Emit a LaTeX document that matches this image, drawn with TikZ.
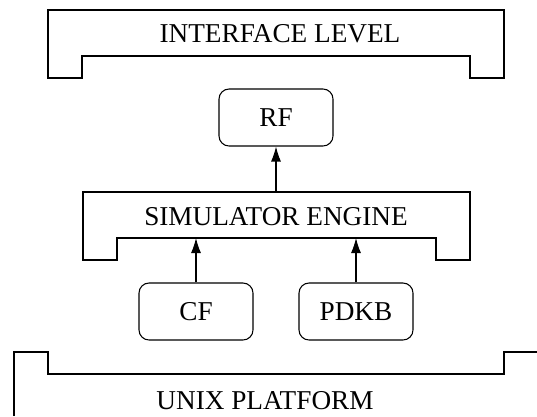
\documentclass[tikz,border=0pt]{standalone}
\usepackage{fontspec}
\setmainfont{Liberation Serif}
\usetikzlibrary{arrows.meta}

\begin{document}
\begin{tikzpicture}[x=0.02cm, y=-0.02cm, line width=0.6pt,
	every node/.style={font=\fontsize{15.5}{18}\selectfont},
	modbox/.style={draw, rounded corners=2mm, minimum width=2.28cm, minimum height=1.14cm, inner sep=0pt},
	flow/.style={-{Latex[length=3mm, width=2mm]}}]
	\useasboundingbox (0,0) rectangle (537,416);
	% Layers
	\draw (48,78) -- (48,10) -- (504,10) -- (504,78) -- (470,78) -- (470,56) -- (82,56) -- (82,78) -- cycle;
	\draw (83,260) -- (83,192) -- (470,192) -- (470,260) -- (436,260) -- (436,238) -- (117,238) -- (117,260) -- cycle;
	\draw (14,416) -- (14,352) -- (48,352) -- (48,374) -- (504,374) -- (504,352) -- (537,352);
	\coordinate (engtop) at (276,192);
	\coordinate (engnotch) at (0,238);
	% Nodes
	\node (interface) at (280,34) {INTERFACE LEVEL};
	\node (engine) at (276,217) {SIMULATOR ENGINE};
	\node (unix) at (265,401) {UNIX PLATFORM};
	\node[modbox] (rf) at (276,117.5) {RF};
	\node[modbox] (cf) at (196,311.5) {CF};
	\node[modbox] (pdkb) at (356,311.5) {PDKB};
	% Edges
	\draw[flow] (engtop) -- (rf);
	\draw[flow] (cf) -- (cf |- engnotch);
	\draw[flow] (pdkb) -- (pdkb |- engnotch);
\end{tikzpicture}
\end{document}
